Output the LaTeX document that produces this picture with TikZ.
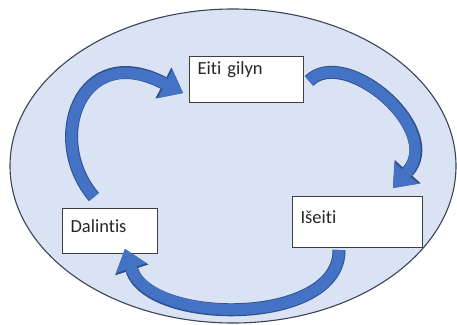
\documentclass[tikz,border=0pt]{standalone}
\usepackage{fontspec}
\setmainfont[Ligatures=NoCommon]{Carlito}
\usetikzlibrary{arrows.meta}
\definecolor{ovalfill}{HTML}{DAE3F3}
\definecolor{ovalline}{HTML}{3B4455}
\definecolor{boxline}{HTML}{3F3F3F}
\definecolor{arrowfill}{HTML}{4472C4}
\definecolor{arrowedge}{HTML}{2F528F}

\begin{document}
\begin{tikzpicture}[x=1pt, y=-1pt,
  stepbox/.style={draw=boxline, fill=white, line width=1.1pt, anchor=north west,
    inner xsep=8pt, inner ysep=0pt, align=left, text=black!85,
    font=\fontsize{18.5}{20}\selectfont},
  curvedarrow/.style={line width=11pt, draw=arrowfill,
    -{Triangle[length=20pt, width=32pt, line width=0pt]},
    preaction={draw=arrowedge, line width=13pt,
      -{Triangle[length=22pt, width=35pt, line width=0pt]}}}]
  \useasboundingbox (0,0) rectangle (457,324);
  \draw[fill=ovalfill, draw=ovalline, line width=1.1pt] (233,166) ellipse [x radius=223, y radius=157];

  \node[stepbox, text width=98pt, text height=18pt, text depth=28pt] (eiti) at (189,56) {Eiti gilyn};
  \node[stepbox, text width=79pt, text height=24pt, text depth=21pt] (dalintis) at (62,208) {Dalintis};
  \node[stepbox, text width=114pt, text height=26.5pt, text depth=24.5pt] (iseiti) at (292,196) {Išeiti};

  % block arrows round the cycle
  \coordinate (up tail) at (94,197);
  \coordinate (up tip) at (183,93);
  \coordinate (down tail) at (309,81);
  \coordinate (down tip) at (393,188);
  \coordinate (back tail) at (339,250);
  \coordinate (back tip) at (125,249);
  \draw[curvedarrow] (up tail) .. controls (45,140) and (80,40) .. (up tip);
  \draw[curvedarrow] (down tail) .. controls (345,45) and (445,130) .. (down tip);
  \draw[curvedarrow] (back tail) .. controls (340,326) and (150,326) .. (back tip);
\end{tikzpicture}
\end{document}
